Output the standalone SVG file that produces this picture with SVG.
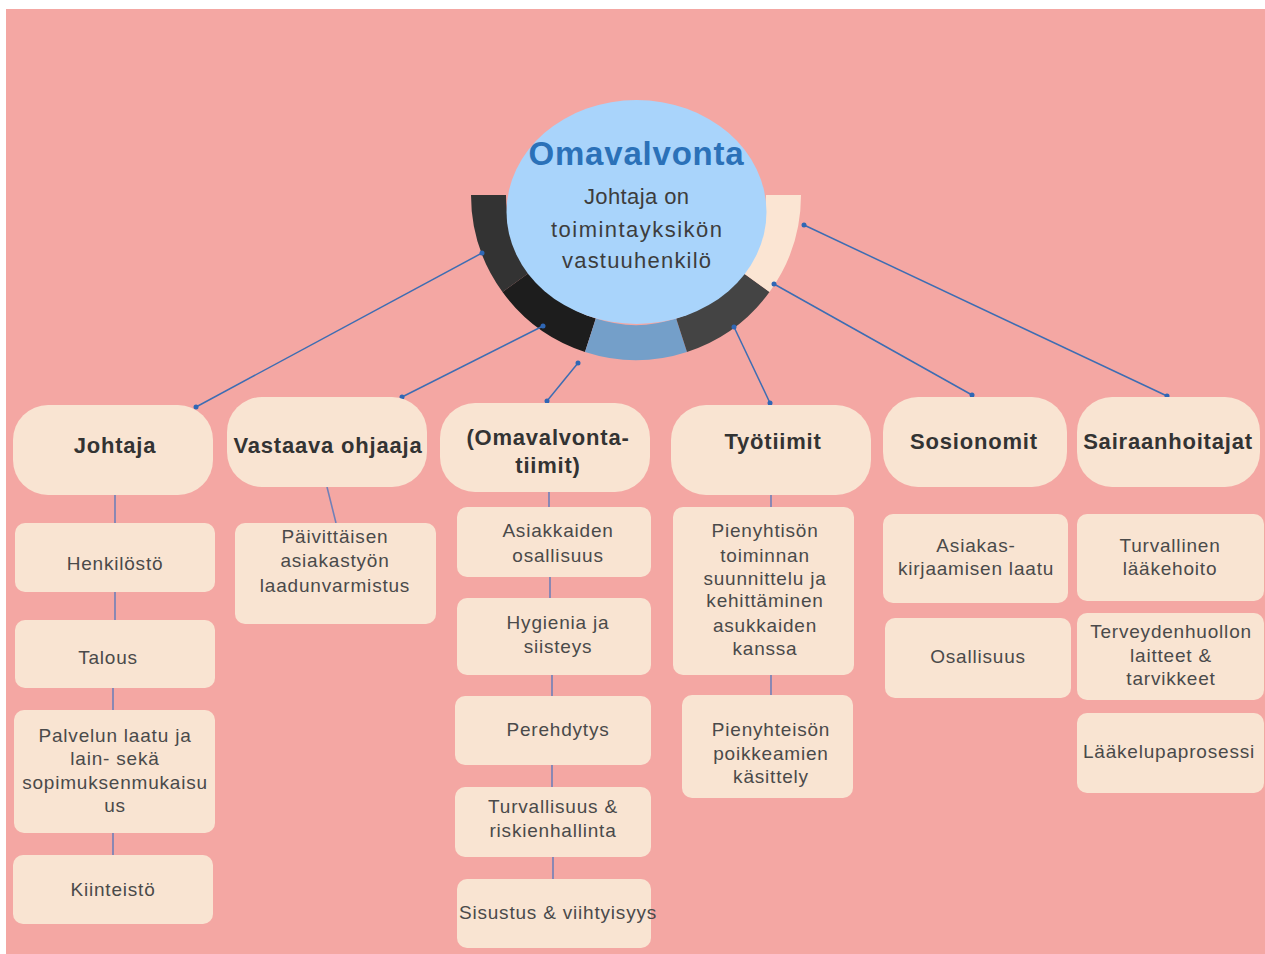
<svg xmlns="http://www.w3.org/2000/svg" width="1265" height="954" viewBox="0 0 1265 954">
<defs>
<style>
.bg{fill:#F4A7A3}
.pill{fill:#F9E4D2}
.box{fill:#F9E4D2}
.h{fill:#333333;font-family:"Liberation Sans",Arial,sans-serif;font-weight:bold;font-size:22px;letter-spacing:0.8px;text-anchor:middle}
.t{fill:#4a4a4a;font-family:"Liberation Sans",Arial,sans-serif;font-size:19px;letter-spacing:0.8px;text-anchor:middle}
.sub{fill:#3d3d3d;font-family:"Liberation Sans",Arial,sans-serif;font-size:22px;text-anchor:middle}
.c{stroke:#3D6DB3;stroke-width:1.5;fill:none}
.s{stroke:#6F80B8;stroke-width:1.6;fill:none}
.dot{fill:#2F67B5}
</style>
</defs>
<rect class="bg" x="6" y="9" width="1259" height="945"/>

<g id="center">
  <path d="M471,195 A165,165 0 0 0 502.5,292 L530.8,271.4 A130,130 0 0 1 506,195 Z" fill="#333333"/>
  <path d="M502.5,292 A165,165 0 0 0 585,351.9 L595.8,318.6 A130,130 0 0 1 530.8,271.4 Z" fill="#1D1D1D"/>
  <path d="M585,351.9 A165,165 0 0 0 687,351.9 L676.2,318.6 A130,130 0 0 1 595.8,318.6 Z" fill="#749FC9"/>
  <path d="M687,351.9 A165,165 0 0 0 769.5,292 L741.2,271.4 A130,130 0 0 1 676.2,318.6 Z" fill="#444444"/>
  <path d="M769.5,292 A165,165 0 0 0 801,195 L766,195 A130,130 0 0 1 741.2,271.4 Z" fill="#FBE5D3"/>
  <ellipse cx="636.5" cy="212" rx="130" ry="112" fill="#A9D4FB"/>
  <text x="636.5" y="165" style="fill:#2B71B8;font-family:'Liberation Sans',Arial,sans-serif;font-weight:bold;font-size:33px;letter-spacing:0.8px;text-anchor:middle">Omavalvonta</text>
  <text class="sub" x="636.5" y="204" textLength="105">Johtaja on</text>
  <text class="sub" x="636.5" y="237" textLength="171">toimintayksikön</text>
  <text class="sub" x="636.5" y="268" textLength="149">vastuuhenkilö</text>
</g>

<g id="connectors">
  <line class="c" x1="482" y1="253" x2="196" y2="407"/>
  <line class="c" x1="543" y1="326" x2="402" y2="397"/>
  <line class="c" x1="578" y1="363" x2="547" y2="401"/>
  <line class="c" x1="734" y1="327" x2="770" y2="403"/>
  <line class="c" x1="774" y1="284" x2="972" y2="395"/>
  <line class="c" x1="804" y1="225" x2="1167" y2="396"/>
  <circle class="dot" cx="482" cy="253" r="2.5"/><circle class="dot" cx="196" cy="407" r="2.5"/>
  <circle class="dot" cx="543" cy="326" r="2.5"/><circle class="dot" cx="402" cy="397" r="2.5"/>
  <circle class="dot" cx="578" cy="363" r="2.5"/><circle class="dot" cx="547" cy="401" r="2.5"/>
  <circle class="dot" cx="734" cy="327" r="2.5"/><circle class="dot" cx="770" cy="403" r="2.5"/>
  <circle class="dot" cx="774" cy="284" r="2.5"/><circle class="dot" cx="972" cy="395" r="2.5"/>
  <circle class="dot" cx="804" cy="225" r="2.5"/><circle class="dot" cx="1167" cy="396" r="2.5"/>
  <line class="s" x1="115" y1="495" x2="115" y2="523"/>
  <line class="s" x1="115" y1="592" x2="115" y2="620"/>
  <line class="s" x1="113" y1="688" x2="113" y2="710"/>
  <line class="s" x1="113" y1="833" x2="113" y2="855"/>
  <line class="s" x1="327" y1="487" x2="336" y2="523"/>
  <line class="s" x1="549" y1="492" x2="549" y2="507"/>
  <line class="s" x1="550" y1="577" x2="550" y2="598"/>
  <line class="s" x1="552" y1="675" x2="552" y2="696"/>
  <line class="s" x1="552" y1="765" x2="552" y2="787"/>
  <line class="s" x1="553" y1="857" x2="553" y2="879"/>
  <line class="s" x1="771" y1="495" x2="771" y2="507"/>
  <line class="s" x1="771" y1="675" x2="771" y2="695"/>
</g>

<g id="johtaja"><rect class="pill" x="13" y="405" width="200" height="90" rx="35"/><text class="h" x="115" y="453">Johtaja</text></g>
<g id="vastaava-ohjaaja"><rect class="pill" x="227" y="397" width="200" height="90" rx="35"/><text class="h" x="328" y="453">Vastaava ohjaaja</text></g>
<g id="omavalvontatiimit"><rect class="pill" x="440" y="403" width="210" height="89" rx="35"/><text class="h" x="548" y="445">(Omavalvonta-</text><text class="h" x="548" y="473">tiimit)</text></g>
<g id="tyotiimit"><rect class="pill" x="671" y="405" width="200" height="90" rx="35"/><text class="h" x="773" y="449">Työtiimit</text></g>
<g id="sosionomit"><rect class="pill" x="883" y="397" width="184" height="90" rx="35"/><text class="h" x="974" y="449">Sosionomit</text></g>
<g id="sairaanhoitajat"><rect class="pill" x="1077" y="397" width="183" height="90" rx="35"/><text class="h" x="1168" y="449">Sairaanhoitajat</text></g>

<g id="henkilosto"><rect class="box" x="15" y="523" width="200" height="69" rx="10"/><text class="t" x="115" y="570">Henkilöstö</text></g>
<g id="talous"><rect class="box" x="15" y="620" width="200" height="68" rx="10"/><text class="t" x="108" y="664">Talous</text></g>
<g id="palvelun-laatu"><rect class="box" x="14" y="710" width="201" height="123" rx="10"/><text class="t" x="115" y="742">Palvelun laatu ja</text><text class="t" x="115" y="765">lain- sekä</text><text class="t" x="115" y="789">sopimuksenmukaisu</text><text class="t" x="115" y="812">us</text></g>
<g id="kiinteisto"><rect class="box" x="13" y="855" width="200" height="69" rx="10"/><text class="t" x="113" y="896">Kiinteistö</text></g>

<g id="paivittaisen"><rect class="box" x="235" y="523" width="201" height="101" rx="10"/><text class="t" x="335" y="543">Päivittäisen</text><text class="t" x="335" y="567">asiakastyön</text><text class="t" x="335" y="592">laadunvarmistus</text></g>

<g id="asiakkaiden-osallisuus"><rect class="box" x="457" y="507" width="194" height="70" rx="10"/><text class="t" x="558" y="537">Asiakkaiden</text><text class="t" x="558" y="562">osallisuus</text></g>
<g id="hygienia"><rect class="box" x="457" y="598" width="194" height="77" rx="10"/><text class="t" x="558" y="629">Hygienia ja</text><text class="t" x="558" y="653">siisteys</text></g>
<g id="perehdytys"><rect class="box" x="455" y="696" width="196" height="69" rx="10"/><text class="t" x="558" y="736">Perehdytys</text></g>
<g id="turvallisuus"><rect class="box" x="455" y="787" width="196" height="70" rx="10"/><text class="t" x="553" y="813">Turvallisuus &amp;</text><text class="t" x="553" y="837">riskienhallinta</text></g>
<g id="sisustus"><rect class="box" x="457" y="879" width="194" height="69" rx="10"/><text class="t" x="558" y="919">Sisustus &amp; viihtyisyys</text></g>

<g id="pienyhtison"><rect class="box" x="673" y="507" width="181" height="168" rx="10"/><text class="t" x="765" y="537">Pienyhtisön</text><text class="t" x="765" y="562">toiminnan</text><text class="t" x="765" y="585">suunnittelu ja</text><text class="t" x="765" y="607">kehittäminen</text><text class="t" x="765" y="632">asukkaiden</text><text class="t" x="765" y="655">kanssa</text></g>
<g id="pienyhteison-poikkeamat"><rect class="box" x="682" y="695" width="171" height="103" rx="10"/><text class="t" x="771" y="736">Pienyhteisön</text><text class="t" x="771" y="760">poikkeamien</text><text class="t" x="771" y="783">käsittely</text></g>

<g id="asiakaskirjaaminen"><rect class="box" x="883" y="514" width="185" height="89" rx="10"/><text class="t" x="976" y="552">Asiakas-</text><text class="t" x="976" y="575">kirjaamisen laatu</text></g>
<g id="osallisuus"><rect class="box" x="885" y="618" width="186" height="80" rx="10"/><text class="t" x="978" y="663">Osallisuus</text></g>

<g id="turvallinen-laakehoito"><rect class="box" x="1077" y="514" width="187" height="87" rx="10"/><text class="t" x="1170" y="552">Turvallinen</text><text class="t" x="1170" y="575">lääkehoito</text></g>
<g id="terveydenhuollon"><rect class="box" x="1077" y="613" width="187" height="87" rx="10"/><text class="t" x="1171" y="638">Terveydenhuollon</text><text class="t" x="1171" y="662">laitteet &amp;</text><text class="t" x="1171" y="685">tarvikkeet</text></g>
<g id="laakelupaprosessi"><rect class="box" x="1077" y="713" width="187" height="80" rx="10"/><text class="t" x="1169" y="758">Lääkelupaprosessi</text></g>
</svg>
